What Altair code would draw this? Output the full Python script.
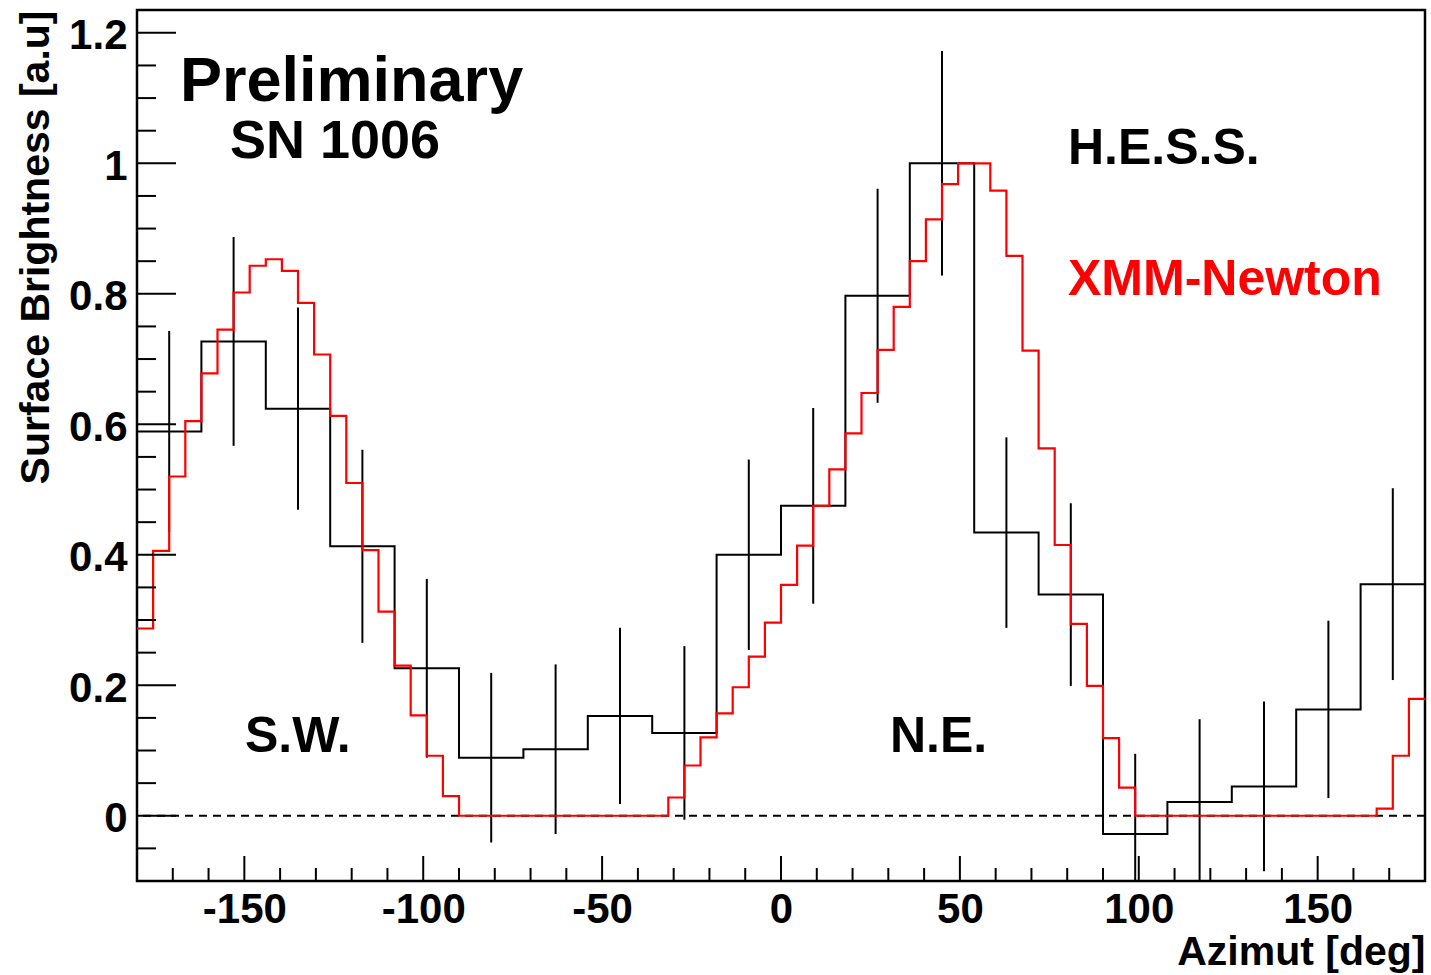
import altair as alt
import numpy as np
import pandas as pd

FONT = "Liberation Sans"

# ---------------- data ----------------
# H.E.S.S. histogram: 20 bins of 18 deg from -180 to 180
hess_lo = -180.0
hess_width = 18.0
hess_values = [0.589, 0.727, 0.624, 0.413, 0.226, 0.089, 0.102, 0.153, 0.127, 0.400,
               0.475, 0.797, 1.000, 0.434, 0.339, -0.028, 0.021, 0.045, 0.163, 0.355]
hess_errors = [0.154, 0.160, 0.155, 0.148, 0.137, 0.130, 0.130, 0.135, 0.133, 0.146,
               0.150, 0.164, 0.172, 0.146, 0.140, 0.123, 0.127, 0.130, 0.136, 0.147]

# XMM-Newton histogram: 80 bins of 4.5 deg from -180 to 180
xmm_lo = -180.0
xmm_width = 4.5
xmm_values = [0.287, 0.406, 0.520, 0.605, 0.678, 0.745, 0.802, 0.843, 0.853, 0.835,
              0.786, 0.707, 0.613, 0.510, 0.407, 0.313, 0.230, 0.154, 0.092, 0.030,
              0.0, 0.0, 0.0, 0.0, 0.0, 0.0, 0.0, 0.0, 0.0, 0.0,
              0.0, 0.0, 0.0, 0.028, 0.077, 0.120, 0.157, 0.197, 0.244, 0.296,
              0.354, 0.414, 0.475, 0.531, 0.586, 0.648, 0.714, 0.780, 0.850, 0.914,
              0.968, 1.000, 1.000, 0.958, 0.858, 0.713, 0.563, 0.415, 0.294, 0.199,
              0.119, 0.043, 0.0, 0.0, 0.0, 0.0, 0.0, 0.0, 0.0, 0.0,
              0.0, 0.0, 0.0, 0.0, 0.0, 0.0, 0.0, 0.011, 0.092, 0.179]

x_major_ticks = [-150, -100, -50, 0, 50, 100, 150]
x_minor_ticks = [-170, -160, -140, -130, -120, -110, -90, -80, -70, -60, -40, -30, -20, -10,
                 10, 20, 30, 40, 60, 70, 80, 90, 110, 120, 130, 140, 160, 170]
y_major_ticks = [0, 0.2, 0.4, 0.6, 0.8, 1, 1.2]
y_minor_ticks = [-0.05, 0.05, 0.1, 0.15, 0.25, 0.3, 0.35, 0.45, 0.5, 0.55, 0.65, 0.7, 0.75,
                 0.85, 0.9, 0.95, 1.05, 1.1, 1.15]

x_domain = [-180, 180]
y_domain = [-0.1, 1.235]

# ---------------- tables ----------------
def step_table(lo, width, values):
    n = len(values)
    edges = lo + width * np.arange(n + 1)
    vals = list(values) + [values[-1]]
    return pd.DataFrame({"x": edges, "y": vals})

hess_step = step_table(hess_lo, hess_width, hess_values)
xmm_step = step_table(xmm_lo, xmm_width, xmm_values)
hess_centers = hess_lo + hess_width * (np.arange(len(hess_values)) + 0.5)
hess_err = pd.DataFrame({
    "x": hess_centers,
    "lo": np.array(hess_values) - np.array(hess_errors),
    "hi": np.array(hess_values) + np.array(hess_errors),
})

W, H = 1288, 871
xs = alt.Scale(domain=x_domain, nice=False, zero=False)
ys = alt.Scale(domain=y_domain, nice=False, zero=False)

x_axis = alt.Axis(
    values=x_major_ticks, labelExpr="'' + datum.value", ticks=False, domain=False, grid=False,
    labelFont=FONT, labelFontWeight="bold", labelFontSize=42, labelColor="black",
    labelPadding=8, labelFlush=False, labelOverlap=False,
    title="Azimut [deg]", titleFont=FONT, titleFontWeight="bold", titleFontSize=41,
    titleColor="black", titleX=W, titleY=83, titleAlign="right", titleBaseline="alphabetic",
)
y_axis = alt.Axis(
    values=y_major_ticks, labelExpr="'' + datum.value", ticks=False, domain=False, grid=False,
    labelFont=FONT, labelFontWeight="bold", labelFontSize=42, labelColor="black",
    labelPadding=10, labelFlush=False, labelOverlap=False, labelOffset=3,
    title="Surface Brightness [a.u]", titleFont=FONT, titleFontWeight="bold", titleFontSize=41,
    titleColor="black", titleAngle=270, titleX=-89, titleY=0, titleAlign="right",
    titleBaseline="alphabetic",
)

def X(field):
    return alt.X(field, scale=xs, axis=x_axis)

def Y(field):
    return alt.Y(field, scale=ys, axis=y_axis)

zero_line = alt.Chart(pd.DataFrame({"y": [0.0]})).mark_rule(
    color="black", strokeWidth=1.8, strokeDash=[8, 6]
).encode(y=Y("y:Q"))

hess_line = alt.Chart(hess_step).mark_line(
    interpolate="step-after", color="black", strokeWidth=2, clip=True
).encode(x=X("x:Q"), y=Y("y:Q"))

hess_bars = alt.Chart(hess_err).mark_rule(color="black", strokeWidth=2, clip=True).encode(
    x=X("x:Q"), y=Y("lo:Q"), y2="hi:Q",
)

xmm_line = alt.Chart(xmm_step).mark_line(
    interpolate="step-after", color="#ff0000", strokeWidth=2.2, clip=True
).encode(x=X("x:Q"), y=Y("y:Q"))

xmaj = alt.Chart(pd.DataFrame({"t": x_major_ticks})).mark_rule(color="black", strokeWidth=2).encode(
    x=X("t:Q"), y=alt.value(H), y2=alt.value(H - 25))
xmin = alt.Chart(pd.DataFrame({"t": x_minor_ticks})).mark_rule(color="black", strokeWidth=2).encode(
    x=X("t:Q"), y=alt.value(H), y2=alt.value(H - 13))
ymaj = alt.Chart(pd.DataFrame({"t": y_major_ticks})).mark_rule(color="black", strokeWidth=2).encode(
    y=Y("t:Q"), x=alt.value(0), x2=alt.value(39))
ymin = alt.Chart(pd.DataFrame({"t": y_minor_ticks})).mark_rule(color="black", strokeWidth=2).encode(
    y=Y("t:Q"), x=alt.value(0), x2=alt.value(19))

def label(text, px, py, size, color="black"):
    return alt.Chart(pd.DataFrame({"label": [text]})).mark_text(
        font=FONT, fontWeight="bold", fontSize=size, color=color,
        align="left", baseline="alphabetic"
    ).encode(text="label:N", x=alt.value(px), y=alt.value(py))

texts = [
    label("Preliminary", 43, 91, 63),
    label("SN 1006", 93, 148, 54),
    label("H.E.S.S.", 931, 154, 50),
    label("XMM-Newton", 931, 285, 50, "#ff0000"),
    label("S.W.", 108, 742, 50),
    label("N.E.", 753, 742, 50),
]

chart = alt.layer(
    zero_line, hess_line, hess_bars, xmm_line, xmaj, xmin, ymaj, ymin, *texts
).properties(
    width=W, height=H,
    autosize=alt.AutoSizeParams(type="none"),
    padding={"left": 137, "top": 10, "right": 6, "bottom": 94},
    background="white",
).configure_view(stroke="black", strokeWidth=2.5)

chart.save("out.html", embed_options={"renderer": "svg", "actions": False})
